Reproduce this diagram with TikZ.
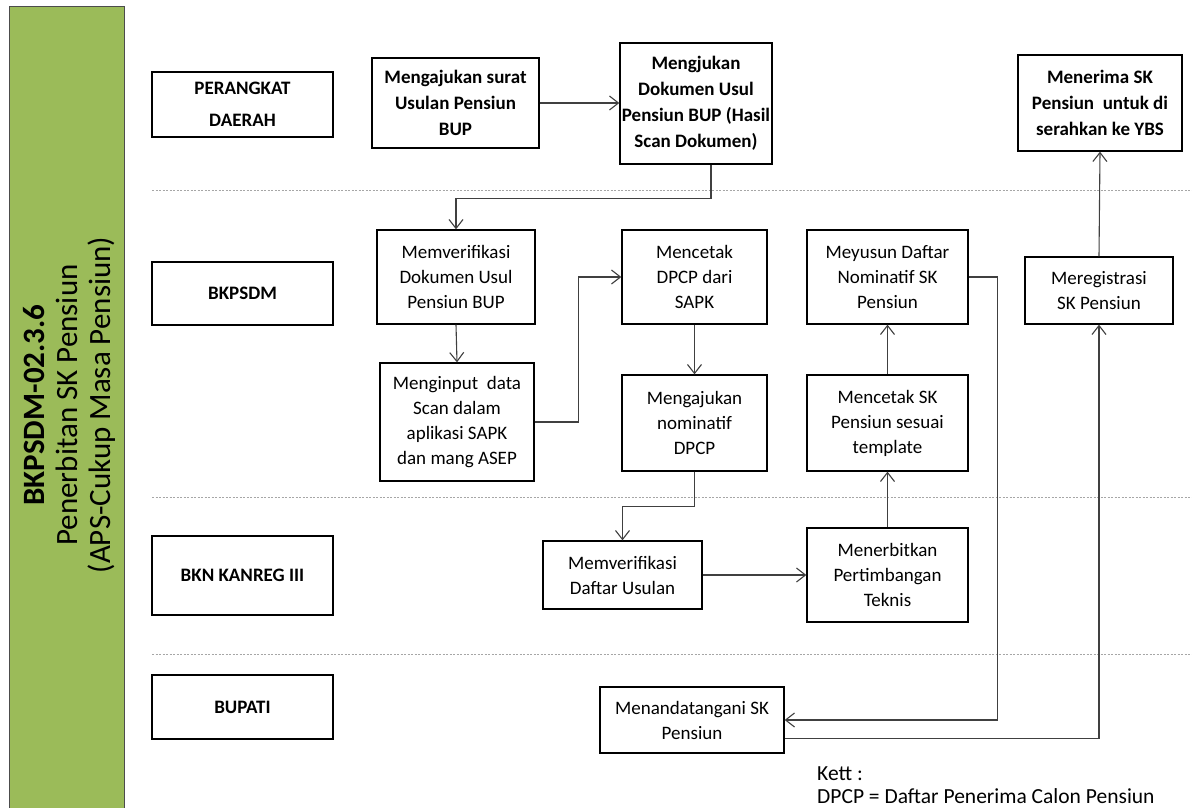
\documentclass[tikz,border=0pt]{standalone}
\usepackage{fontspec}
\setmainfont{Carlito}
\usetikzlibrary{arrows.meta}
\begin{document}
\begin{tikzpicture}[x=1pt,y=-1pt,
  box/.style={draw=black, line width=1.3pt, align=center, inner sep=0pt,
    font=\fontsize{19}{25}\selectfont},
  bbox/.style={box, font=\fontsize{19}{26}\bfseries\selectfont},
  lane/.style={bbox, minimum width=181pt, font=\fontsize{19}{32}\bfseries\selectfont},
  conn/.style={draw=black!75, line width=1.1pt, -{Straight Barb[length=9pt,width=14pt]}},
  sep/.style={draw=black!35, line width=0.9pt, dash pattern=on 2pt off 1.5pt},
  title/.style={rotate=90, align=center, font=\fontsize{31}{33}\selectfont},
  note/.style={anchor=base west, inner sep=0pt, font=\fontsize{21.5}{26}\selectfont}]
\useasboundingbox (0,0) rectangle (1192,808);
\fill[white] (0,0) rectangle (1192,808);
% side bar
\draw[fill={rgb,255:red,155;green,187;blue,89}, draw=black!70, line width=1pt] (9,7) rectangle (124,812);
\node[title] (ttl) at (69,405) {{\bfseries BKPSDM-02.3.6}\\Penerbitan SK Pensiun\\(APS-Cukup Masa Pensiun)};
% separators
\draw[sep] (152,190) -- (1192,190);
\draw[sep] (152,497) -- (1192,497);
\draw[sep] (152,654) -- (1192,654);
% lane labels
\node[lane, minimum height=65pt] (l1) at (242.5,104.5) {PERANGKAT\\DAERAH};
\node[lane, minimum height=63pt] (l2) at (242.5,293.5) {BKPSDM};
\node[lane, minimum height=79pt] (l3) at (242.5,575.5) {BKN KANREG III};
\node[lane, minimum height=64pt] (l4) at (242.5,707) {BUPATI};
% process boxes
\node[bbox, minimum width=167pt, minimum height=90pt] (b1) at (455.5,103) {Mengajukan surat\\Usulan Pensiun\\BUP};
\node[bbox, minimum width=152pt, minimum height=121pt] (b2) at (696,103.5) {Mengjukan\\Dokumen Usul\\Pensiun BUP (Hasil\\Scan Dokumen)};
\node[bbox, minimum width=164pt, minimum height=96pt] (b3) at (1100,103) {Menerima SK\\Pensiun\ \ untuk di\\serahkan ke YBS};
\node[box, minimum width=158pt, minimum height=94pt] (b4) at (456,277) {Memverifikasi\\Dokumen Usul\\Pensiun BUP};
\node[box, minimum width=154pt, minimum height=118pt] (b5) at (457,422) {Menginput\ \ data\\Scan dalam\\aplikasi SAPK\\dan mang ASEP};
\node[box, minimum width=145pt, minimum height=94pt] (b6) at (694.5,277) {Mencetak\\DPCP dari\\SAPK};
\node[box, minimum width=145pt, minimum height=96pt] (b7) at (694.5,423) {Mengajukan\\nominatif\\DPCP};
\node[box, minimum width=161pt, minimum height=94pt] (b8) at (887.5,277) {Meyusun Daftar\\Nominatif SK\\Pensiun};
\node[box, minimum width=161pt, minimum height=96pt] (b9) at (887.5,423) {Mencetak SK\\Pensiun sesuai\\template};
\node[box, minimum width=148pt, minimum height=67pt] (b10) at (1099,290.5) {Meregistrasi\\SK Pensiun};
\node[box, minimum width=159pt, minimum height=68pt] (b11) at (622.5,575) {Memverifikasi\\Daftar Usulan};
\node[box, minimum width=161pt, minimum height=94pt] (b12) at (887.5,575) {Menerbitkan\\Pertimbangan\\Teknis};
\node[box, minimum width=184pt, minimum height=66pt] (b13) at (692,720) {Menandatangani SK\\Pensiun};
% notes
\node[note] (k1) at (817,780) {Kett :};
\node[note] (k2) at (817,803) {DPCP = Daftar Penerima Calon Pensiun};
% connectors
\draw[conn] (b1.east) -- (b2.west |- b1.east);
\draw[conn] ([xshift=15pt]b2.south) -- ++(0,34) -| (b4.north);
\draw[conn] (b4.south) -- (b5.north);
\draw[conn] (b5.east) -- ++(44,0) |- (b6.west);
\draw[conn] (b6.south) -- (b7.north);
\draw[conn] (b7.south) -- ++(0,35) -| (b11.north);
\draw[conn] (b11.east) -- (b12.west |- b11.east);
\draw[conn] (b12.north) -- (b9.south);
\draw[conn] (b9.north) -- (b8.south);
\draw[conn] (b8.east) -- ++(29,0) |- (b13.east);
\draw[conn] ([yshift=15pt]b13.south east) -| (b10.south);
\draw[conn] (b10.north) -- (b3.south);
\end{tikzpicture}
\end{document}
